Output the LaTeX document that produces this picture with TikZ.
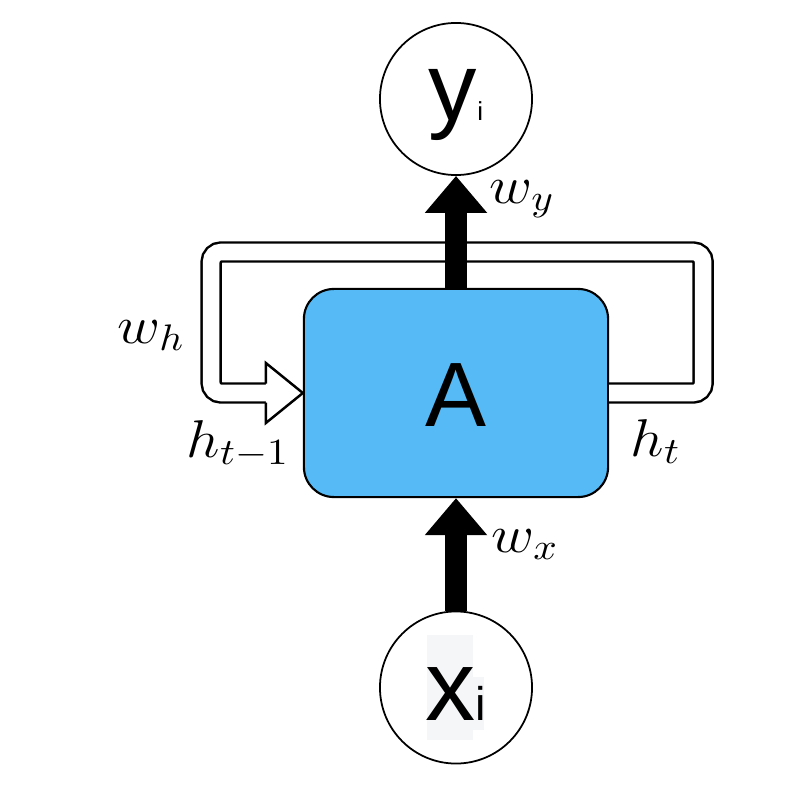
\documentclass[tikz,border=0pt]{standalone}
\usepackage{fontspec}
\newfontfamily\arialfont{Liberation Sans}
\usetikzlibrary{arrows.meta,calc}
\definecolor{cellblue}{RGB}{85,186,245}
\definecolor{patchgray}{RGB}{245,246,248}
\tikzset{
  unit/.style={circle,draw,line width=0.5pt,minimum size=1.52cm,inner sep=0pt,text depth=0pt},
  cell/.style={draw,line width=0.6pt,fill=cellblue,rounded corners=0.3cm,minimum width=3.04cm,minimum height=2.08cm,inner sep=0pt,text depth=0pt},
  bigarrow/.style={line width=0.21cm,-{Triangle[width=0.6cm,length=0.37cm]}},
  recur/.style={double,double distance=0.165cm,line width=0.7pt,rounded corners=0.1cm},
  weight/.style={anchor=base west,inner sep=0pt,xscale=1.17,yscale=1.05,transform shape,font=\fontsize{14.4}{16}\selectfont}
}

\begin{document}
\begin{tikzpicture}[x=0.01cm,y=-0.01cm]
\useasboundingbox (0,0) rectangle (800,785);
\fill[patchgray] (427,635) rectangle (473,740);
\fill[patchgray] (473,677) rectangle (484,730);
\node[unit,text height=0.42cm] (yi) at (456,99) {\arialfont\fontsize{27.5}{28}\selectfont y{\fontsize{7.4}{8}\selectfont i}};
\node[unit,text height=0.65cm] (xi) at (456,687.5) {\arialfont\fontsize{28.5}{29}\selectfont x{\fontsize{13.4}{14}\selectfont i}};
\node[cell,text height=0.66cm] (A) at (456,393) {\arialfont\fontsize{26}{27}\selectfont A};
\draw[recur] (A.east) -- ++(94,0) -- ++(0,-141) -- ++(-492,0) -- ++(0,141) -- ++(57,0);
\draw[line width=0.7pt,fill=white] ($(A.west)+(-37,-9.5)$) -- ++(0,-20.5) -- (A.west) -- ++(-37,30) -- ++(0,-20.5);
\draw[bigarrow] (xi) -- (A);
\draw[bigarrow] (A) -- (yi);
\node[weight] (wy) at (489,203) {$w_y$};
\node[weight] (wx) at (491,552) {$w_x$};
\node[weight] (wh) at (117,343) {$w_h$};
\node[weight] (hp) at (186,457) {$h_{t-1}$};
\node[weight] (ht) at (630,456) {$h_t$};
\end{tikzpicture}
\end{document}
